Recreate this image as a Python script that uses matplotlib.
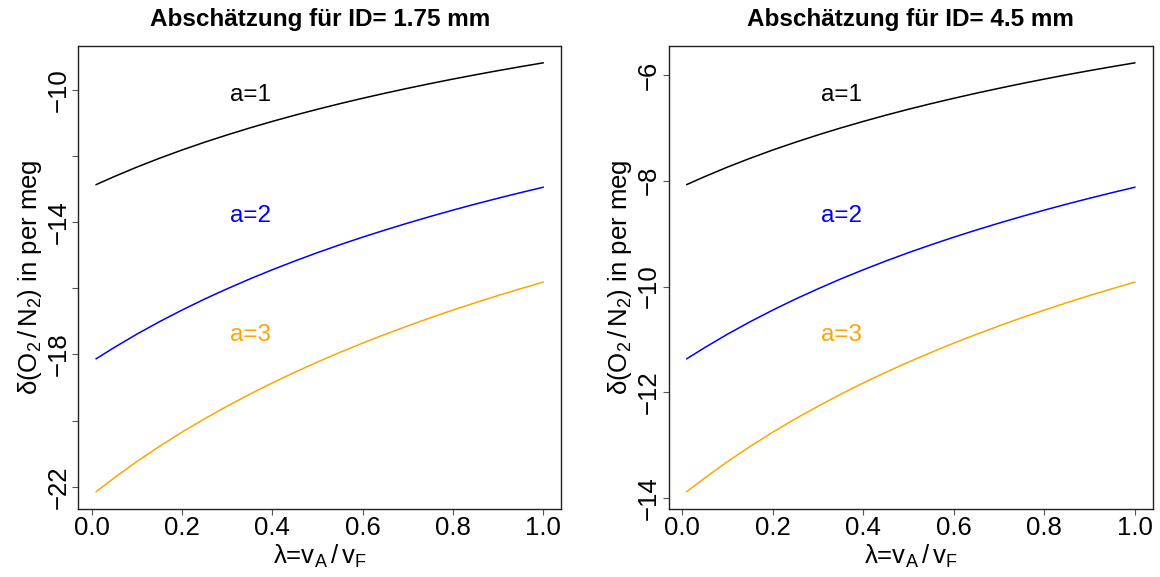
import matplotlib
matplotlib.use("Agg")
import matplotlib.pyplot as plt

plt.rcParams['font.family'] = ['Liberation Sans', 'DejaVu Sans']
plt.rcParams['mathtext.fontset'] = 'custom'
plt.rcParams['mathtext.rm'] = 'Liberation Sans'
plt.rcParams['mathtext.it'] = 'Liberation Sans:italic'
plt.rcParams['mathtext.default'] = 'regular'

# Data (lambda = v_A / v_F)
lam = [0.01, 0.05, 0.10, 0.15, 0.20, 0.25, 0.30, 0.35, 0.40, 0.45, 0.50,
       0.55, 0.60, 0.65, 0.70, 0.75, 0.80, 0.85, 0.90, 0.95, 1.00]

# ID = 1.75 mm
left_a1 = [-12.867, -12.625, -12.339, -12.073, -11.823, -11.588, -11.367, -11.157, -10.959, -10.771, -10.592,
           -10.422, -10.260, -10.106, -9.958, -9.816, -9.680, -9.550, -9.425, -9.305, -9.189]
left_a2 = [-18.130, -17.789, -17.386, -17.011, -16.659, -16.327, -16.016, -15.720, -15.441, -15.176, -14.924,
           -14.685, -14.456, -14.239, -14.031, -13.831, -13.639, -13.456, -13.280, -13.111, -12.947]
left_a3 = [-22.144, -21.728, -21.235, -20.778, -20.347, -19.943, -19.563, -19.201, -18.860, -18.537, -18.229,
           -17.936, -17.657, -17.392, -17.138, -16.893, -16.659, -16.436, -16.220, -16.014, -15.814]

# ID = 4.5 mm
right_a1 = [-8.072, -7.921, -7.742, -7.576, -7.419, -7.273, -7.134, -7.003, -6.879, -6.761, -6.649,
            -6.543, -6.442, -6.345, -6.253, -6.164, -6.079, -5.997, -5.919, -5.844, -5.772]
right_a2 = [-11.365, -11.152, -10.900, -10.665, -10.445, -10.237, -10.043, -9.857, -9.683, -9.517, -9.359,
            -9.210, -9.067, -8.931, -8.801, -8.676, -8.556, -8.441, -8.331, -8.225, -8.123]
right_a3 = [-13.876, -13.616, -13.308, -13.022, -12.752, -12.499, -12.262, -12.035, -11.822, -11.620, -11.427,
            -11.244, -11.069, -10.904, -10.744, -10.591, -10.445, -10.305, -10.170, -10.041, -9.916]

series_labels = ["a=1", "a=2", "a=3"]
colors = ["black", "#0000FF", "#FFA500"]

titles = ["Abschätzung für ID= 1.75 mm", "Abschätzung für ID= 4.5 mm"]
left_yticks = [-22, -20, -18, -16, -14, -12, -10]
left_yticklabels = ["\u221222", "", "\u221218", "", "\u221214", "", "\u221210"]
right_yticks = [-14, -12, -10, -8, -6]
right_yticklabels = ["\u221214", "\u221212", "\u221210", "\u22128", "\u22126"]
xticks = [0.0, 0.2, 0.4, 0.6, 0.8, 1.0]
xticklabels = ["0.0", "0.2", "0.4", "0.6", "0.8", "1.0"]

label_x = 0.352
left_label_y = [-10.16, -13.82, -17.40]
right_label_y = [-6.38, -8.67, -10.91]

fig = plt.figure(figsize=(11.6, 5.77), dpi=100)
axL = fig.add_axes([0.0675, 0.1182, 0.4161, 0.8026])
axR = fig.add_axes([0.5766, 0.1182, 0.4171, 0.8026])

panels = [
    (axL, [left_a1, left_a2, left_a3], left_yticks, left_yticklabels, left_label_y, titles[0]),
    (axR, [right_a1, right_a2, right_a3], right_yticks, right_yticklabels, right_label_y, titles[1]),
]

for ax, series, yt, ytl, ly, title in panels:
    for s, c in zip(series, colors):
        ax.plot(lam, s, color=c, lw=1.1)
    ax.margins(x=0.04, y=0.04)
    for lab, c, y in zip(series_labels, colors, ly):
        ax.text(label_x, y, lab, color=c, fontsize=17.5, ha='center', va='center')
    ax.set_xticks(xticks)
    ax.set_xticklabels(xticklabels, fontsize=18.5)
    ax.set_yticks(yt)
    ax.set_yticklabels(ytl, fontsize=18.5, rotation=90, va='center')
    ax.tick_params(axis='both', direction='out', length=4.5, width=0.8, color='#555555')
    ax.tick_params(axis='x', pad=1)
    ax.tick_params(axis='y', pad=1)
    for sp in ax.spines.values():
        sp.set_linewidth(1.0)
        sp.set_color('#222222')
    ax.set_title(title, fontsize=17.5, fontweight='bold', pad=14)
    ax.set_xlabel("\u03bb=v$_{A}\\,/\\,$v$_{F}$", fontsize=18.5, labelpad=2)
    ax.set_ylabel("\u03b4(O$_{2}\\,/\\,$N$_{2}$) in per meg", fontsize=18.5, labelpad=2)

fig.savefig("out.png", dpi=100)
